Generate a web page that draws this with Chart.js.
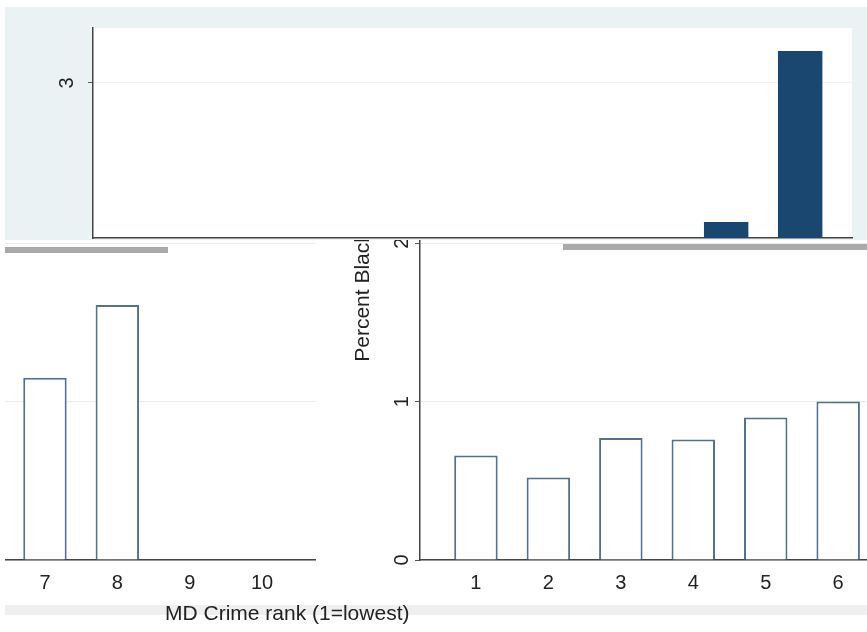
<!DOCTYPE html>
<html>
<head>
<meta charset="utf-8">
<script src="https://cdn.jsdelivr.net/npm/chart.js@4.4.0/dist/chart.umd.min.js"></script>
<style>
  body { margin: 0; background: #fff; }
  #wrap { position: relative; width: 867px; height: 632px; overflow: hidden; background: #fff; font-family: "Liberation Sans", Arial, sans-serif; }
  .box { position: absolute; }
</style>
</head>
<body>
<div id="wrap">
  <div class="box" style="left:5px;top:605px;width:862px;height:10px;background:#efefef"></div>
  <div class="box" id="leftBox" style="left:5px;top:34px;width:311px;height:586px"><canvas id="leftChart"></canvas></div>
  <div class="box" id="rightBox" style="left:347px;top:34px;width:560px;height:586px"><canvas id="rightChart"></canvas></div>
  <div class="box" id="topBox" style="left:5px;top:7px;width:862px;height:233px;background:#eaf2f3;z-index:5"><canvas id="topChart"></canvas></div>
  <div class="box" style="left:5px;top:247px;width:163px;height:6px;background:#a9a9a9;z-index:6"></div>
  <div class="box" style="left:563px;top:244px;width:304px;height:6px;background:#a9a9a9;z-index:6"></div>
  <div class="box" style="left:165px;top:601px;font-size:21px;color:#222;white-space:nowrap;z-index:6">MD Crime rank (1=lowest)</div>
</div>
<script>
// top panel (filled bars)
const topRanks = [1, 2, 3, 4, 5, 6, 7, 8, 9, 10];
const topValues = [0, 0, 0, 0, 0, 0, 0, 0, 0.31, 3.62];
const topTicks = [3];
// bottom left panel (outlined bars)
const leftRanks = [7, 8, 9, 10];
const leftValues = [1.15, 1.61, 0, 0];
// bottom right panel
const rightRanks = [1, 2, 3, 4, 5, 6];
const rightValues = [0.66, 0.52, 0.77, 0.76, 0.9, 1.0];
const bottomTicks = [0, 1, 2, 3];

const navy = "#1a476f";
const outline = "#55708e";
const font = { family: "Liberation Sans", size: 20 };

//白い背景をプロット領域に
const plotBg = {
  id: "plotBg",
  beforeDraw: (chart) => {
    const a = chart.chartArea;
    const ctx = chart.ctx;
    ctx.save();
    ctx.fillStyle = "white";
    ctx.fillRect(a.left, a.top, a.right - a.left, a.bottom - a.top);
    ctx.restore();
  },
};

function points(xs, ys) {
  return xs.map((x, i) => ({ x: x, y: ys[i] }));
}

function fixTicks(list) {
  return (scale) => {
    scale.ticks = list.map((v) => ({ value: v }));
  };
}

//軸の大きさを固定、ラベル用の余白はなし
function fixHeight(h) {
  return (s) => {
    s.height = h;
    s.paddingLeft = 0; s.paddingRight = 0; s.paddingTop = 0; s.paddingBottom = 0;
  };
}
function fixWidth(w) {
  return (s) => {
    s.width = w;
    s.paddingLeft = 0; s.paddingRight = 0; s.paddingTop = 0; s.paddingBottom = 0;
  };
}

// top chart
new Chart(document.getElementById("topChart"), {
  type: "bar",
  data: {
    datasets: [{
      data: points(topRanks, topValues),
      backgroundColor: navy,
      borderColor: navy,
      borderWidth: 0,
      barPercentage: 0.6,
      categoryPercentage: 1,
    }],
  },
  plugins: [plotBg],
  options: {
    responsive: true,
    maintainAspectRatio: false,
    animation: false,
    layout: { autoPadding: false, padding: { top: 21, right: 15, bottom: 0, left: 0 } },
    plugins: { legend: { display: false }, tooltip: { enabled: false } },
    scales: {
      x: {
        type: "linear",
        offset: false,
        min: 0.446,
        max: 10.7,
        afterBuildTicks: fixTicks(topRanks),
        grid: { display: false, drawTicks: false },
        ticks: { display: false },
        border: { color: "#444", width: 1.5 },
        afterFit: fixHeight(2),
      },
      y: {
        min: 0,
        max: 4.064,
        afterBuildTicks: fixTicks(topTicks),
        grid: { color: "#eef3f4", tickColor: "#555", tickLength: 5 },
        border: { color: "#444", width: 1.5 },
        ticks: { font: font, color: "#222", minRotation: 90, maxRotation: 90, crossAlign: "center", padding: 15 },
        afterFit: fixWidth(88),
      },
    },
  },
});

// bottom left chart
new Chart(document.getElementById("leftChart"), {
  type: "bar",
  data: {
    datasets: [{
      data: points(leftRanks, leftValues),
      backgroundColor: "white",
      borderColor: outline,
      borderWidth: 2,
      borderSkipped: "bottom",
      barPercentage: 0.6,
      categoryPercentage: 1,
    }],
  },
  options: {
    responsive: true,
    maintainAspectRatio: false,
    animation: false,
    layout: { autoPadding: false, padding: 0 },
    plugins: { legend: { display: false }, tooltip: { enabled: false } },
    scales: {
      x: {
        type: "linear",
        offset: false,
        min: 6.448,
        max: 10.745,
        afterBuildTicks: fixTicks(leftRanks),
        grid: { display: false, drawTicks: false },
        border: { color: "#444", width: 1.5 },
        ticks: { font: font, color: "#222", padding: 11, callback: (v) => String(v) },
        afterFit: fixHeight(60),
      },
      y: {
        min: 0,
        max: 3.32,
        afterBuildTicks: fixTicks(bottomTicks),
        grid: { color: "#e6eef0", drawTicks: false },
        border: { display: false },
        ticks: { display: false },
        afterFit: fixWidth(0),
      },
    },
  },
});

// bottom right chart
new Chart(document.getElementById("rightChart"), {
  type: "bar",
  data: {
    datasets: [{
      data: points(rightRanks, rightValues),
      backgroundColor: "white",
      borderColor: outline,
      borderWidth: 2,
      borderSkipped: "bottom",
      barPercentage: 0.6,
      categoryPercentage: 1,
    }],
  },
  options: {
    responsive: true,
    maintainAspectRatio: false,
    animation: false,
    layout: { autoPadding: false, padding: 0 },
    plugins: { legend: { display: false }, tooltip: { enabled: false } },
    scales: {
      x: {
        type: "linear",
        offset: false,
        min: 0.228,
        max: 6.95,
        afterBuildTicks: fixTicks(rightRanks),
        grid: { display: false, drawTicks: false },
        border: { color: "#444", width: 1.5 },
        ticks: { font: font, color: "#222", padding: 11, callback: (v) => String(v) },
        afterFit: fixHeight(60),
      },
      y: {
        min: 0,
        max: 3.32,
        afterBuildTicks: fixTicks(bottomTicks),
        grid: { color: "#e6eef0", tickColor: "#555", tickLength: 5 },
        border: { color: "#444", width: 1.5 },
        ticks: { font: font, color: "#222", minRotation: 90, maxRotation: 90, crossAlign: "center", padding: 7 },
        title: { display: true, text: "Percent Black", font: { family: "Liberation Sans", size: 21 }, color: "#222", padding: 4 },
        afterFit: fixWidth(73),
      },
    },
  },
});
</script>
</body>
</html>
